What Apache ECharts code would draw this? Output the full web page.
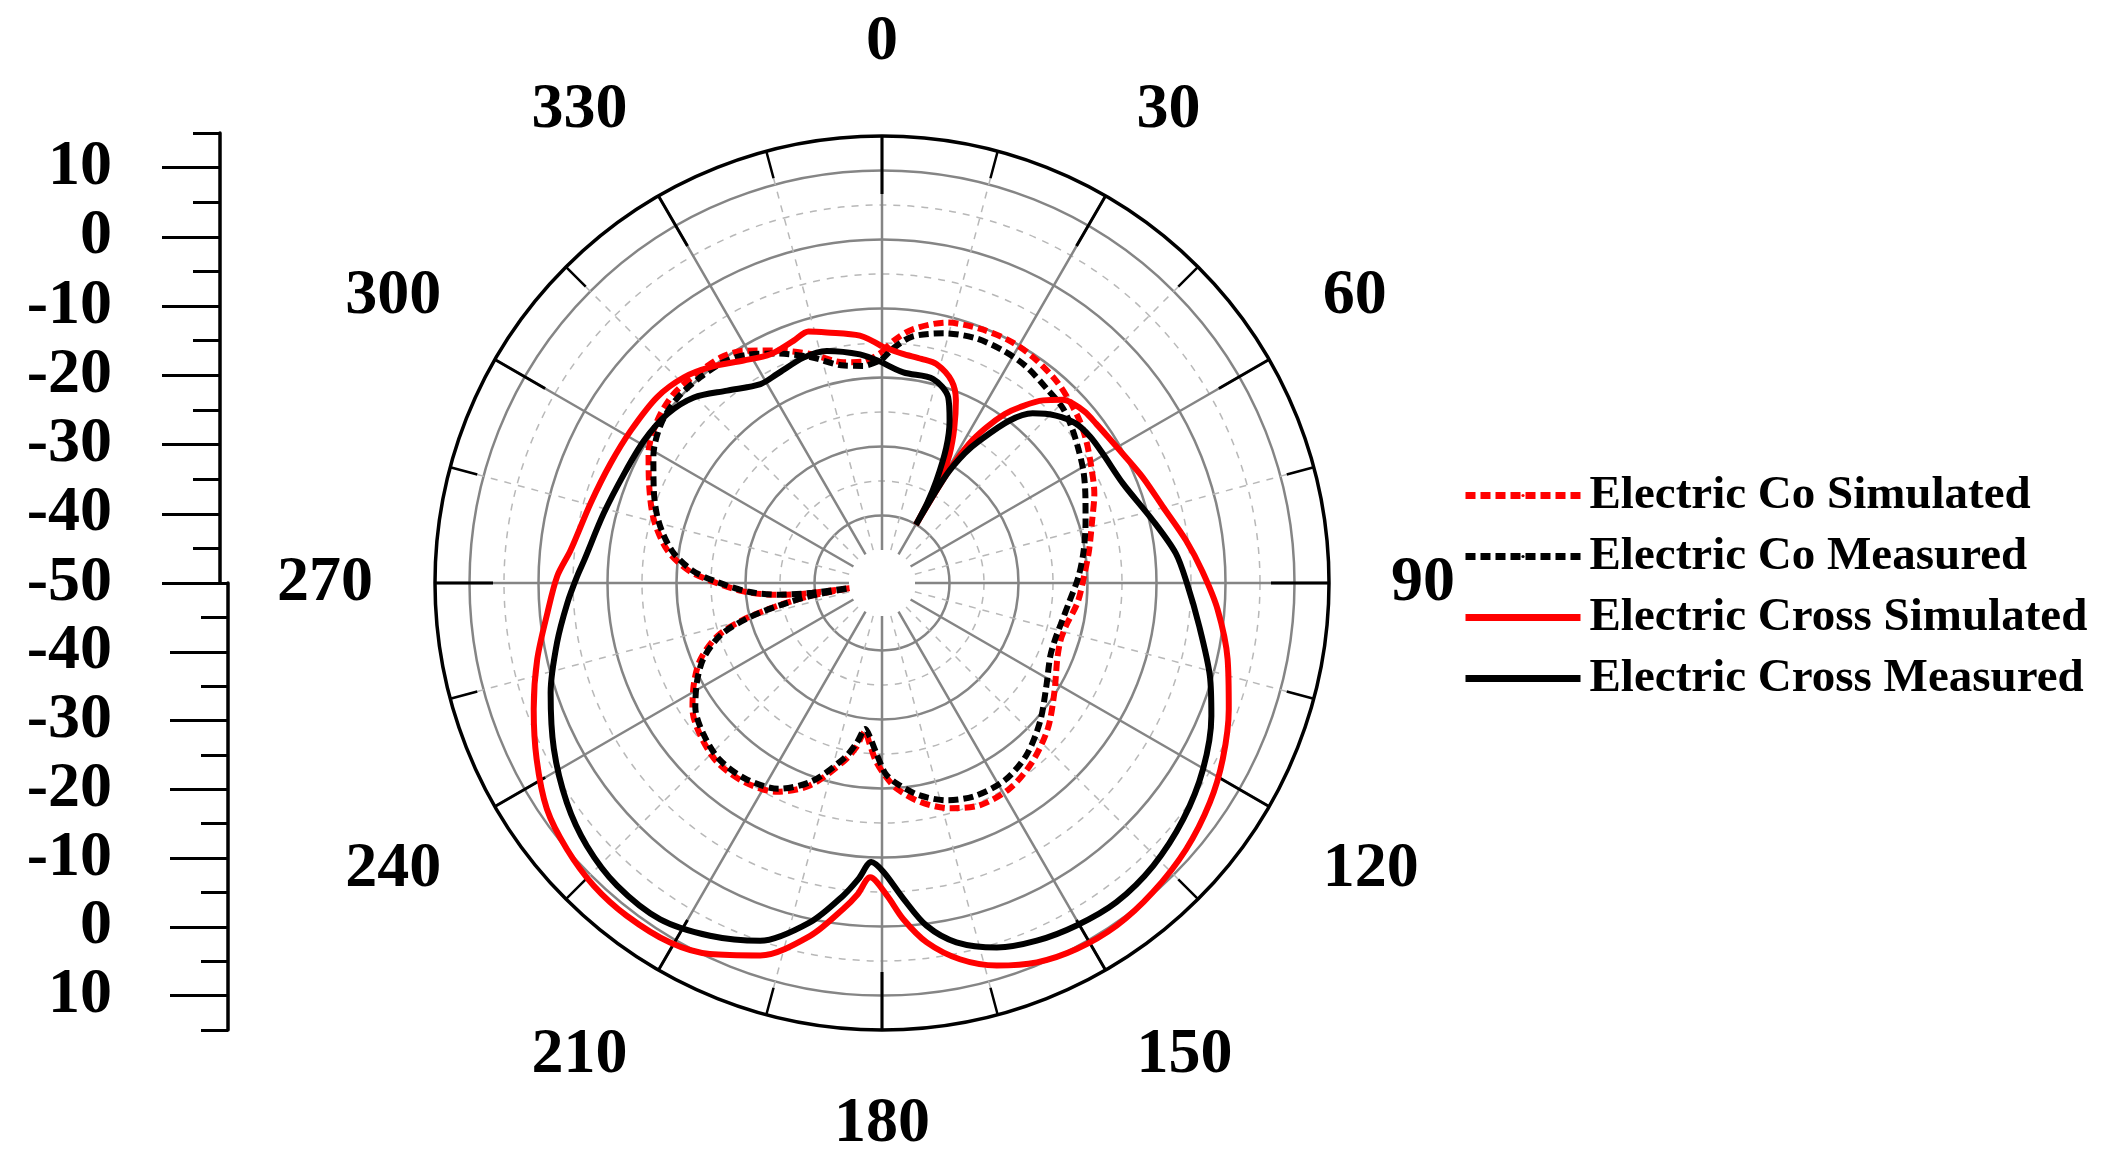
<!DOCTYPE html>
<html lang="en">
<head>
<meta charset="utf-8">
<title>Electric field pattern</title>
<script src="https://cdn.jsdelivr.net/npm/echarts@6/dist/echarts.min.js"></script>
<style>
  html, body { margin: 0; padding: 0; background: #fff; }
  #chart { width: 2111px; height: 1171px; }
</style>
</head>
<body>
<div id="chart"></div>
<script>
// gain in dB against angle in degrees
var coSimAngle = [0, 3, 7, 13.9, 21, 27.8, 33.8, 40.7, 45.8, 50.5, 55.1, 61, 67.2, 73.4, 81, 88.2, 95.7, 103.1, 108, 113.4, 122.4, 131.3, 140.1, 148.2, 156.3, 163.3, 170.2, 175.9, 179, 182, 184.5, 186.5, 189, 192.2, 199.5, 206.7, 214.8, 222.6, 229.9, 236.4, 242.2, 247.3, 252.2, 255.3, 257.7, 259.8, 261, 262, 263.5, 266.4, 270.7, 273.8, 278.7, 285.4, 292.4, 299, 305.9, 312.3, 318.5, 324.4, 329.2, 335.7, 342.6, 350.1, 355, 360];
var coSim = [-16.3, -14.5, -12.7, -10.9, -10.3, -10.1, -10.4, -11.1, -11.9, -12.7, -13.7, -15.1, -16.4, -18, -19.4, -20.5, -21.3, -22.4, -22.6, -22.1, -20.2, -17.8, -15.9, -14.7, -14.6, -15.7, -17.6, -19.9, -21.8, -24, -26.5, -28.1, -25.6, -23.3, -18.7, -15.9, -14.7, -14.5, -15.4, -16.8, -19, -21.3, -24.8, -29.2, -34.3, -39.4, -45.5, -39.4, -34.6, -29.8, -25, -21.6, -18.3, -15.5, -13.3, -11.1, -9.6, -9, -9.3, -9.6, -10.6, -12.8, -15, -17.3, -17.6, -16.3];
var coMeas = [-17.4, -15.6, -13.8, -12.5, -11.8, -11.8, -12.1, -12.9, -13.3, -14.2, -15.2, -16.4, -17.8, -19, -20.2, -21.3, -22.5, -23.2, -23.4, -23.2, -21.6, -19.3, -17.2, -16.1, -16.1, -16.9, -18.6, -20.7, -22.2, -25.2, -27.4, -28.5, -26.3, -23.8, -19.3, -16.4, -15.2, -15, -15.9, -17.3, -19.5, -21.8, -25.3, -29.6, -34.6, -39.6, -46, -39.6, -34.8, -30.2, -25.5, -22.2, -19, -16.2, -14, -11.9, -10.3, -9.8, -10, -10.4, -11.3, -13.3, -15.5, -17.8, -18.2, -17.4];

var crossSimAngle = [0, 5, 10, 14, 19, 22, 25, 27.7, 29.2, 30.2, 30.8, 32, 33.8, 36, 38, 41.4, 44.6, 46.8, 50, 53.4, 57, 61.7, 68, 74.8, 82, 88, 94.5, 102.4, 110, 117.3, 123.8, 131.2, 138.8, 145.6, 152, 157.8, 163.3, 168.3, 172.9, 176.4, 179.1, 182.3, 184.5, 186.8, 191.5, 198.1, 204.9, 210.5, 217.5, 223.6, 229.8, 236, 243, 250.1, 257.5, 264.9, 271.2, 276, 285.3, 293.8, 301.3, 309.6, 316.1, 321.5, 328.1, 334, 340, 343.7, 347.6, 354.9, 360];
var crossSim = [-15.5, -16.4, -16.8, -17.1, -18.8, -21.2, -25, -28.7, -32, -40, -31, -26, -22.7, -19.5, -17.5, -14.5, -12.5, -11.8, -11.3, -11.1, -10.8, -10.2, -9, -7.6, -5.3, -3.3, -1, 1.5, 3.7, 5.8, 7.4, 8.8, 9.8, 10.4, 10.3, 9.6, 8.1, 5.9, 2.7, -1, -4.5, -7.1, -4.5, -2.2, 2.4, 7, 9.5, 10.7, 11, 10.8, 10, 8.8, 6.4, 3.9, 1.4, -1.1, -2.7, -4.4, -6, -6.8, -7.2, -7.5, -8.4, -9.8, -11.8, -12.9, -12.4, -11.8, -12.6, -13.8, -15.5];

var crossMeasAngle = [0, 5.8, 14.1, 19.6, 22.6, 25.4, 28, 29.5, 30.2, 30.8, 32.5, 34.4, 38.1, 41.6, 46.1, 50.6, 55, 59.6, 67.6, 77, 84.2, 90, 97.7, 105.8, 112, 120.1, 128.1, 136.2, 143.7, 150.4, 156.6, 162.5, 168.3, 172.6, 176.1, 179.7, 182.2, 184.5, 187, 192, 198.8, 206, 213.4, 221.2, 228.3, 235.1, 243.2, 251.7, 259.6, 266.4, 271.3, 274.4, 284, 293, 300.9, 308.2, 314.6, 321.2, 328.6, 333.3, 340.8, 346.6, 354.5, 360];
var crossMeas = [-17.8, -19.1, -19.3, -21.2, -24.3, -28.1, -33, -36.5, -40, -31.5, -27.5, -24.8, -19.9, -16.9, -14.8, -13.4, -12.9, -12.7, -12, -9.5, -7, -5.6, -3.4, -0.4, 1.7, 4, 5.7, 7, 7.6, 7.3, 6.7, 5.6, 3.4, 0.3, -3.9, -7.9, -9.3, -6.8, -4.2, 0.5, 5, 7.1, 8.6, 8.5, 7.5, 5.9, 3.5, 0.8, -1.9, -4.1, -5.6, -6.5, -8.2, -9.2, -9.6, -10.2, -11.5, -14, -16, -15.9, -15.2, -15.2, -16.5, -17.8];

var seriesNames = ['Electric Co Simulated', 'Electric Co Measured', 'Electric Cross Simulated', 'Electric Cross Measured'];

// left-hand dB scale, mirrored about the -50 dB centre
var scaleTopLabels = [-50, -40, -30, -20, -10, 0, 10];
var scaleBottomLabels = [-40, -30, -20, -10, 0, 10];
var scaleMajor = [-50, -40, -30, -20, -10, 0, 10];
var scaleMinor = [-45, -35, -25, -15, -5, 5, 15];

function pairs(values, angles) {
    return values.map(function (v, i) { return [v, angles[i]]; });
}

var serif = 'Liberation Serif';
var gridGray = '#858585';
var dashGray = '#b8b8b8';
var none = 'rgba(0,0,0,0)';

function scaleAxis(grid, inverse, labels, margin) {
    return {
        gridIndex: grid, type: 'value', min: -50, max: 15, inverse: inverse, position: 'left',
        axisLine: { show: true, onZero: false, lineStyle: { color: '#000', width: 3.5 } },
        axisTick: { show: true, length: 58, customValues: scaleMajor, lineStyle: { color: '#000', width: 3 } },
        axisLabel: { customValues: labels, margin: margin, fontSize: 64, fontWeight: 'bold', fontFamily: serif, color: '#000' },
        splitLine: { show: false }
    };
}
function scaleMinorAxis(grid, inverse) {
    return {
        gridIndex: grid, type: 'value', min: -50, max: 15, inverse: inverse, position: 'left',
        axisLine: { show: false },
        axisTick: { show: true, length: 27, customValues: scaleMinor, lineStyle: { color: '#000', width: 3 } },
        axisLabel: { show: false },
        splitLine: { show: false }
    };
}

var myChart = echarts.init(document.getElementById('chart'));
var option = {
    backgroundColor: '#fff',
    animation: false,
    textStyle: { fontFamily: serif },
    polar: [
        { center: [882, 583], radius: [33, 447] },
        { center: [882, 583], radius: [0, 447] }
    ],
    radiusAxis: [
        {
            polarIndex: 0, type: 'value', min: -45, max: 15, interval: 10,
            axisLine: { show: false }, axisTick: { show: false }, axisLabel: { show: false },
            splitLine: { show: true, lineStyle: { color: [none, dashGray, dashGray, dashGray, dashGray, dashGray, none], width: 1.5, type: [7, 7] } },
            minorTick: { show: false, splitNumber: 2 },
            minorSplitLine: { show: true, lineStyle: { color: gridGray, width: 2.5 } }
        },
        { polarIndex: 1, type: 'value', min: -50, max: 15, show: false }
    ],
    angleAxis: [
        {
            polarIndex: 0, type: 'value', min: 0, max: 360, interval: 30, startAngle: 90, clockwise: true,
            axisLine: { show: false }, axisTick: { show: false }, axisLabel: { show: false },
            splitLine: { show: true, lineStyle: { color: gridGray, width: 2.5 } },
            minorTick: { show: false, splitNumber: 2 },
            minorSplitLine: { show: true, lineStyle: { color: dashGray, width: 1.5, type: [7, 7] } }
        },
        {
            polarIndex: 1, type: 'value', min: 0, max: 360, interval: 30, startAngle: 90, clockwise: true, z: 1,
            axisLine: { show: true, lineStyle: { color: '#000', width: 3.5 } },
            axisTick: { show: true, inside: true, length: 58, lineStyle: { color: '#000', width: 3 } },
            minorTick: { show: true, splitNumber: 2, length: 28, lineStyle: { color: '#000', width: 2.5 } },
            axisLabel: {
                margin: 62, fontSize: 64, fontWeight: 'bold', fontFamily: serif, color: '#000',
                formatter: function (v) { return v === 360 ? '' : String(v); }
            },
            splitLine: { show: false }
        }
    ],
    grid: [
        { left: 220, top: 133, width: 10, height: 450 },
        { left: 228, top: 583, width: 10, height: 447 }
    ],
    xAxis: [
        { gridIndex: 0, type: 'value', show: false },
        { gridIndex: 1, type: 'value', show: false }
    ],
    yAxis: [
        scaleAxis(0, false, scaleTopLabels, 108),
        scaleMinorAxis(0, false),
        scaleAxis(1, true, scaleBottomLabels, 116),
        scaleMinorAxis(1, true)
    ],
    legend: {
        orient: 'vertical', left: 1457, top: 467,
        itemWidth: 115, itemHeight: 4, itemGap: 14,
        lineStyle: { width: 7 },
        textStyle: { fontSize: 47, fontWeight: 'bold', fontFamily: serif, color: '#000', padding: [0, 0, 0, 4] },
        data: seriesNames
    },
    series: [
        {
            name: seriesNames[0], type: 'line', coordinateSystem: 'polar', polarIndex: 0,
            data: pairs(coSim, coSimAngle), smooth: 0.3, symbol: 'none', clip: false,
            itemStyle: { color: '#ff0000' },
            lineStyle: { color: '#ff0000', width: 6, type: [10, 5] }
        },
        {
            name: seriesNames[1], type: 'line', coordinateSystem: 'polar', polarIndex: 0,
            data: pairs(coMeas, coSimAngle), smooth: 0.3, symbol: 'none', clip: false,
            itemStyle: { color: '#000' },
            lineStyle: { color: '#000', width: 6, type: [10, 5] }
        },
        {
            name: seriesNames[2], type: 'line', coordinateSystem: 'polar', polarIndex: 0,
            data: pairs(crossSim, crossSimAngle), smooth: 0.3, symbol: 'none', clip: false,
            itemStyle: { color: '#ff0000' },
            lineStyle: { color: '#ff0000', width: 6 }
        },
        {
            name: seriesNames[3], type: 'line', coordinateSystem: 'polar', polarIndex: 0,
            data: pairs(crossMeas, crossMeasAngle), smooth: 0.3, symbol: 'none', clip: false,
            itemStyle: { color: '#000' },
            lineStyle: { color: '#000', width: 6 }
        }
    ]
};
myChart.setOption(option);
</script>
</body>
</html>
